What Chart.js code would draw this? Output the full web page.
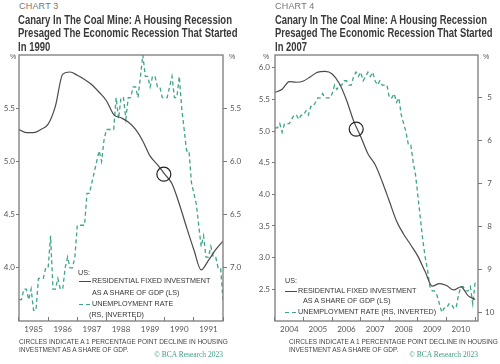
<!DOCTYPE html>
<html>
<head>
<meta charset="utf-8">
<script src="https://cdn.jsdelivr.net/npm/chart.js@4.4.1/dist/chart.umd.min.js"></script>
<style>
body { margin: 0; background: #fff; }
#wrap { position: relative; width: 500px; height: 364px; overflow: hidden; font-family: "Liberation Sans", Arial, sans-serif; color: #3c3c3c; }
#wrap div { position: absolute; white-space: nowrap; }
canvas { position: absolute; }
.chartno { font-size: 9px; line-height: 10px; color: #777; letter-spacing: 0.2px; }
.title { font-family: "Liberation Sans", sans-serif; font-weight: bold; font-size: 12.5px; line-height: 13.5px; color: #3a3a3a; transform-origin: 0 0; }
.pct { font-size: 7px; line-height: 8px; color: #555; }
.leg { font-size: 7.2px; line-height: 8px; color: #333; }
.note { font-size: 6.5px; line-height: 7.6px; color: #444; }
.copy { font-family: "Liberation Serif", serif; font-size: 7.5px; line-height: 8px; color: #3f9c86; }
.solid { height: 0; border-top: 1.2px solid #4a4a4a; }
.dash { height: 1.3px; background: repeating-linear-gradient(to right, #3da58a 0 4px, transparent 4px 7px); }
</style>
</head>
<body>
<div id="wrap">
  <canvas id="c3" width="250" height="300" style="left:0;top:40px"></canvas>
  <canvas id="c4" width="250" height="300" style="left:250px;top:40px"></canvas>

  <div class="chartno" style="left:19px;top:1px">CHART 3</div>
  <div class="title" style="left:18px;top:13.5px" data-w="214">Canary In The Coal Mine: A Housing Recession<br>Presaged The Economic Recession That Started<br>In 1990</div>
  <div class="chartno" style="left:275px;top:1px">CHART 4</div>
  <div class="title" style="left:275px;top:13.5px" data-w="212">Canary In The Coal Mine: A Housing Recession<br>Presaged The Economic Recession That Started<br>In 2007</div>

  <div class="pct" style="left:10px;top:53px">%</div>
  <div class="pct" style="left:229px;top:53px">%</div>
  <div class="pct" style="left:263px;top:53px">%</div>
  <div class="pct" style="left:483px;top:53px">%</div>

  <div class="leg" style="left:78px;top:269px">US:</div>
  <div class="solid" style="left:79px;top:281px;width:12px"></div>
  <div class="leg" style="left:92px;top:277px">RESIDENTIAL FIXED INVESTMENT</div>
  <div class="leg" style="left:92px;top:289px">AS A SHARE OF GDP (LS)</div>
  <div class="dash" style="left:79px;top:304px;width:12px"></div>
  <div class="leg" style="left:92px;top:300px">UNEMPLOYMENT RATE</div>
  <div class="leg" style="left:89px;top:311px">(RS, INVERTED)</div>

  <div class="leg" style="left:285px;top:277px">US:</div>
  <div class="solid" style="left:285px;top:291px;width:12px"></div>
  <div class="leg" style="left:298px;top:287px">RESIDENTIAL FIXED INVESTMENT</div>
  <div class="leg" style="left:303px;top:297px">AS A SHARE OF GDP (LS)</div>
  <div class="dash" style="left:285px;top:312px;width:12px"></div>
  <div class="leg" style="left:298px;top:308px">UNEMPLOYMENT RATE (RS, INVERTED)</div>

  <div class="note" style="left:19px;top:338px">CIRCLES INDICATE A 1 PERCENTAGE POINT DECLINE IN HOUSING<br>INVESTMENT AS A SHARE OF GDP.</div>
  <div class="note" style="left:289px;top:338px">CIRCLES INDICATE A 1 PERCENTAGE POINT DECLINE IN HOUSING<br>INVESTMENT AS A SHARE OF GDP.</div>
  <div class="copy" style="right:277px;top:351px">© BCA Research 2023</div>
  <div class="copy" style="right:22px;top:351px">© BCA Research 2023</div>
</div>
<script>
// chart 3 (1985-1991)
const years3 = [1985, 1986, 1987, 1988, 1989, 1990, 1991];
const resStart3 = 1985;      // quarterly, % of GDP
const res3 = [5.30, 5.27, 5.27, 5.30, 5.35, 5.52, 5.82, 5.84, 5.81, 5.77, 5.72, 5.65, 5.57, 5.44, 5.41,
  5.37, 5.30, 5.19, 5.05, 4.97, 4.88, 4.79, 4.60, 4.38, 4.17, 3.98, 4.07, 4.17, 4.25];
const unempStart3 = 1985;    // monthly, %
const unemp3 = [7.3,
  7.3, 7.2, 7.2, 7.3, 7.2, 7.4, 7.4, 7.1, 7.1, 7.1, 7.0, 7.0,
  6.7, 7.2, 7.2, 7.1, 7.2, 7.2, 7.0, 6.9, 7.0, 7.0, 6.9, 6.6,
  6.6, 6.6, 6.6, 6.3, 6.3, 6.2, 6.1, 6.0, 5.9, 6.0, 5.8, 5.7,
  5.7, 5.7, 5.7, 5.4, 5.6, 5.4, 5.4, 5.6, 5.4, 5.4, 5.3, 5.3,
  5.4, 5.2, 5.0, 5.2, 5.2, 5.3, 5.2, 5.2, 5.3, 5.3, 5.4, 5.4,
  5.4, 5.3, 5.2, 5.4, 5.4, 5.2, 5.5, 5.7, 5.9, 5.9, 6.2, 6.3,
  6.4, 6.6, 6.8, 6.7, 6.9, 6.9, 6.8, 6.9, 6.9, 7.0, 7.0, 7.3];
const leftTicks3 = [4.0, 4.5, 5.0, 5.5];
const rightTicks3 = [5.5, 6.0, 6.5, 7.0];
const circleX3 = [1989.97];
const circleY3 = [4.88];

// chart 4 (2004-2010)
const years4 = [2004, 2005, 2006, 2007, 2008, 2009, 2010];
const resStart4 = 2004;
const res4 = [5.61, 5.66, 5.78, 5.77, 5.79, 5.86, 5.93, 5.94, 5.90, 5.75, 5.49, 5.16, 4.91, 4.64, 4.47,
  4.20, 3.89, 3.58, 3.37, 3.20, 3.02, 2.78, 2.55, 2.59, 2.56, 2.49, 2.54, 2.40, 2.34];
const unempStart4 = 2004;
const unemp4 = [5.7,
  5.7, 5.6, 5.8, 5.6, 5.6, 5.6, 5.5, 5.4, 5.4, 5.5, 5.4, 5.4,
  5.3, 5.4, 5.2, 5.2, 5.1, 5.0, 5.0, 4.9, 5.0, 5.0, 5.0, 4.9,
  4.7, 4.8, 4.7, 4.7, 4.6, 4.6, 4.7, 4.7, 4.5, 4.4, 4.5, 4.4,
  4.6, 4.5, 4.4, 4.5, 4.4, 4.6, 4.7, 4.6, 4.7, 4.7, 4.7, 5.0,
  5.0, 4.9, 5.1, 5.0, 5.4, 5.6, 5.8, 6.1, 6.1, 6.5, 6.8, 7.3,
  7.8, 8.3, 8.7, 9.0, 9.4, 9.5, 9.5, 9.6, 9.8, 10.0, 9.9, 9.9,
  9.8, 9.8, 9.9, 9.9, 9.6, 9.4, 9.4, 9.5, 9.5, 9.4, 9.8, 9.3,
  9.3];
const leftTicks4 = [2.5, 3.0, 3.5, 4.0, 4.5, 5.0, 5.5, 6.0];
const rightTicks4 = [5, 6, 7, 8, 9, 10];
const circleX4 = [2006.84];
const circleY4 = [5.03];

const axisColor = '#7a7a7a';
const tickFont = { family: 'Lato', size: 8 };

// squeeze the title blocks to the condensed width of the original
document.querySelectorAll('.title').forEach(el => {
    const range = document.createRange();
    range.setStart(el.firstChild, 0);
    range.setEnd(el.firstChild, el.firstChild.length);
    const w = range.getBoundingClientRect().width;
    el.style.transform = `scaleX(${el.dataset.w / w})`;
});

const boxPlugin = {
  id: 'box',
  afterDraw(chart) {
    const a = chart.chartArea, ctx = chart.ctx;
    ctx.save();
    ctx.strokeStyle = axisColor;
    ctx.lineWidth = 1.3;
    ctx.strokeRect(a.left, a.top, a.right - a.left, a.bottom - a.top);
    ctx.restore();
  }
};

function makeChart(id, o) {
  return new Chart(document.getElementById(id), {
    type: 'scatter',
    data: {
      datasets: [
        {
          data: o.circleX.map((x, i) => ({ x: x, y: o.circleY[i] })),
          yAxisID: 'y', showLine: false, pointRadius: 7, pointHoverRadius: 7,
          borderColor: '#222', borderWidth: 1.2, backgroundColor: 'rgba(0,0,0,0)'
        },
        {
          data: o.res.map((v, i) => ({ x: o.resStart + i / 4, y: v })),
          yAxisID: 'y', showLine: true, pointRadius: 0, borderColor: '#4a4a4a',
          borderWidth: 1.2, cubicInterpolationMode: 'monotone'
        },
        {
          data: o.unemp.map((v, i) => ({ x: o.unempStart + i / 12, y: v })),
          yAxisID: 'y1', showLine: true, pointRadius: 0, borderColor: '#3da58a',
          borderWidth: 1.3, borderDash: [4, 3]
        }
      ]
    },
    options: {
      responsive: false,
      animation: false,
      events: [],
      layout: { padding: { top: 15, left: 0, right: 0, bottom: 0 }, autoPadding: false },
      plugins: { legend: { display: false }, tooltip: { enabled: false } },
      scales: {
        x: {
          type: 'linear', min: o.xMin, max: o.xMax,
          afterBuildTicks: s => { s.ticks = o.years.map(y => ({ value: y + 0.5 })); },
          afterFit: s => { s.height = 19; },
          ticks: { callback: (v, i) => String(o.years[i]), font: tickFont, color: '#555', padding: 8, maxRotation: 0, autoSkip: false },
          grid: { offset: true, drawOnChartArea: false, drawTicks: true, tickLength: -4, color: axisColor },
          border: { display: false }
        },
        y: {
          position: 'left', min: o.yMin, max: o.yMax,
          afterBuildTicks: s => { s.ticks = o.leftTicks.map(v => ({ value: v })); },
          afterFit: s => { s.width = o.leftW; },
          ticks: { callback: v => v.toFixed(1), font: tickFont, color: '#555', padding: o.leftPad },
          grid: { drawOnChartArea: false, tickLength: 3, color: axisColor },
          border: { display: false }
        },
        y1: {
          position: 'right', reverse: true, min: o.y1Min, max: o.y1Max,
          afterBuildTicks: s => { s.ticks = o.rightTicks.map(v => ({ value: v })); },
          afterFit: s => { s.width = o.rightW; },
          ticks: { callback: o.rightFmt, font: tickFont, color: '#555', padding: 3, crossAlign: 'center' },
          grid: { drawOnChartArea: false, tickLength: 4, color: axisColor },
          border: { display: false }
        }
      }
    },
    plugins: [boxPlugin]
  });
}

makeChart('c3', {
  years: years3, res: res3, resStart: resStart3, unemp: unemp3, unempStart: unempStart3,
  circleX: circleX3, circleY: circleY3, leftTicks: leftTicks3, rightTicks: rightTicks3,
  xMin: 1985, xMax: 1992, yMin: 3.5, yMax: 6.0, y1Min: 5.0, y1Max: 7.5,
  leftW: 19, rightW: 27, leftPad: 1, rightFmt: v => v.toFixed(1)
});

makeChart('c4', {
  years: years4, res: res4, resStart: resStart4, unemp: unemp4, unempStart: unempStart4,
  circleX: circleX4, circleY: circleY4, leftTicks: leftTicks4, rightTicks: rightTicks4,
  xMin: 2004, xMax: 2011.1, yMin: 2.0, yMax: 6.2, y1Min: 4.0, y1Max: 10.2,
  leftW: 25, rightW: 22, leftPad: 2, rightFmt: v => String(v)
});
</script>
</body>
</html>
